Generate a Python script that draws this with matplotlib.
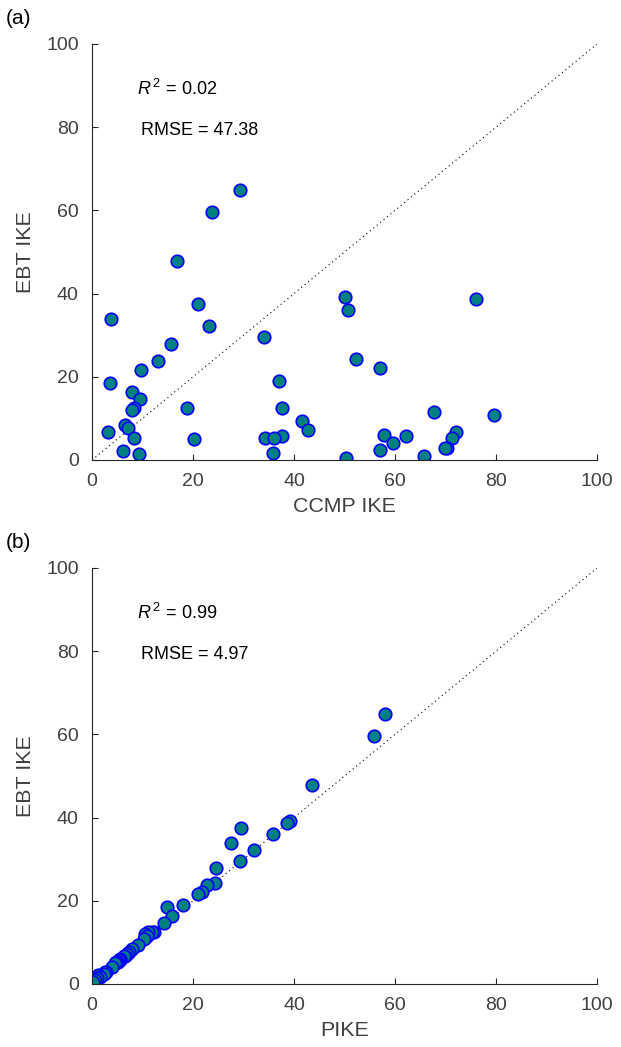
import matplotlib
matplotlib.use("Agg")
import matplotlib.pyplot as plt
import numpy as np

# EBT IKE values (shared by both panels)
ebt_ike = [65.0, 59.6, 47.8, 39.3, 38.6, 37.6, 36.0, 34.0, 32.2, 29.6,
           27.8, 24.2, 23.8, 22.1, 21.6, 19.0, 18.6, 16.4, 14.6, 12.5,
           12.4, 12.4, 12.0, 11.5, 10.7, 9.4, 8.3, 7.6, 7.2, 6.8,
           6.8, 6.0, 5.8, 5.7, 5.4, 5.4, 5.4, 5.3, 5.0, 4.2,
           2.9, 2.8, 2.4, 2.2, 1.8, 1.4, 0.9, 0.5]
# CCMP IKE values (panel a x)
ccmp_ike = [29.3, 23.8, 16.8, 50.0, 76.0, 21.0, 50.6, 3.8, 23.2, 34.0,
            15.6, 52.2, 13.1, 57.0, 9.8, 37.1, 3.5, 7.9, 9.5, 8.4,
            18.9, 37.6, 7.9, 67.8, 79.6, 41.6, 6.5, 7.2, 42.8, 3.1,
            72.0, 57.8, 37.7, 62.1, 8.3, 34.3, 36.0, 71.2, 20.2, 59.7,
            70.3, 69.9, 57.0, 6.2, 35.9, 9.3, 65.7, 50.2]
# PIKE values (panel b x)
pike = [58.0, 55.8, 43.6, 39.2, 38.6, 29.5, 35.9, 27.6, 32.0, 29.4,
        24.6, 24.3, 22.8, 21.8, 21.0, 18.0, 14.9, 15.8, 14.3, 12.2,
        11.8, 11.0, 10.5, 10.9, 10.2, 9.2, 7.9, 7.3, 7.0, 6.5,
        6.3, 5.6, 5.5, 5.3, 5.1, 5.0, 4.9, 4.8, 4.6, 4.0,
        2.7, 2.5, 2.3, 1.2, 1.5, 1.0, 0.6, 0.2]

panels = [
    dict(tag="(a)", x=ccmp_ike, xlabel="CCMP IKE", r2="0.02", rmse="47.38"),
    dict(tag="(b)", x=pike, xlabel="PIKE", r2="0.99", rmse="4.97"),
]
ticks = [0, 20, 40, 60, 80, 100]

plt.rcParams['font.family'] = ['Liberation Sans', 'DejaVu Sans']
plt.rcParams['mathtext.fontset'] = 'custom'
plt.rcParams['mathtext.rm'] = 'Liberation Sans'
plt.rcParams['mathtext.it'] = 'Liberation Sans:italic'

W, H = 621, 1047
fig = plt.figure(figsize=(W / 100, H / 100), dpi=100)
axc = '#262626'
boxes = [(44, 460), (568, 984)]
for p, (top, bot) in zip(panels, boxes):
    ax = fig.add_axes([92 / W, 1 - bot / H, (597 - 92) / W, (bot - top) / H])
    ax.plot([0, 100], [0, 100], linestyle=(0, (1, 3)), color='black', linewidth=0.8, zorder=1)
    ax.plot(p['x'], ebt_ike, linestyle='none', marker='o', markersize=9.0,
            markerfacecolor='#008080', markeredgecolor='#0000ff', markeredgewidth=1.2, zorder=2)
    ax.set_xlim(0, 100)
    ax.set_ylim(0, 100)
    ax.set_xticks(ticks)
    ax.set_yticks(ticks)
    for s in ['top', 'right']:
        ax.spines[s].set_visible(False)
    for s in ['left', 'bottom']:
        ax.spines[s].set_color(axc)
        ax.spines[s].set_linewidth(0.8)
    ax.tick_params(direction='in', length=4, width=0.8, color=axc,
                   labelcolor='#404040', labelsize=14, pad=9.5)
    ax.set_xlabel(p['xlabel'], fontsize=15.4, color='#404040', labelpad=5)
    ax.set_ylabel("EBT IKE", fontsize=15.4, color='#404040', labelpad=8)
    ax.text(8.9, 89.3, r'$\mathit{R}^{\,2}$ = ' + p['r2'], fontsize=13, color='black', va='center', ha='left')
    ax.text(9.7, 79.2, 'RMSE = ' + p['rmse'], fontsize=13, color='black', va='center', ha='left')
    fig.text(6 / W, 1 - (top - 26) / H, p['tag'], fontsize=15, color='black', ha='left', va='center')

fig.savefig('out.png', dpi=100)
